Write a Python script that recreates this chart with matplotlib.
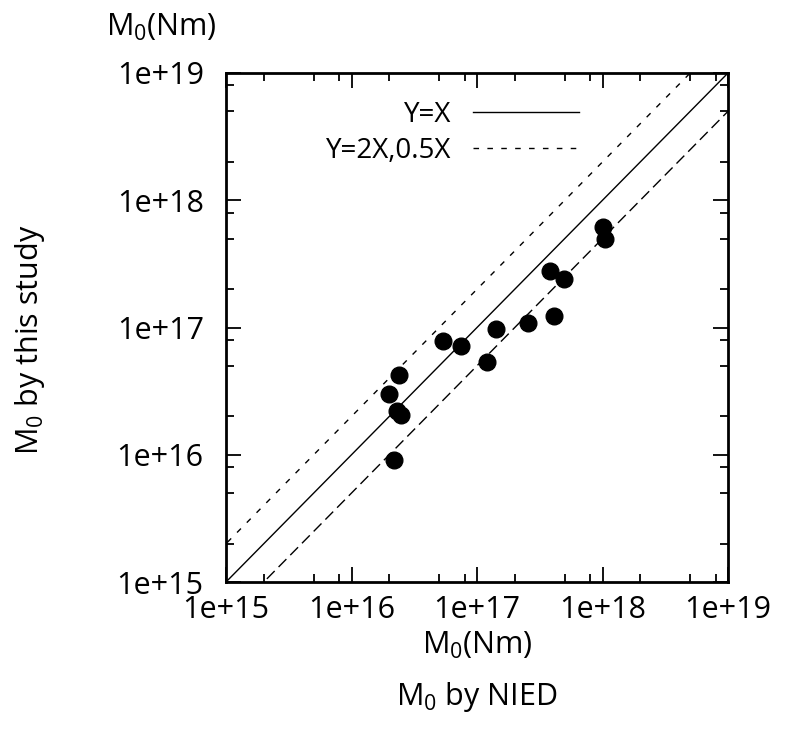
import matplotlib.pyplot as plt
import matplotlib.ticker as mticker
import numpy as np

# Seismic moment, NIED vs this study (Nm)
nied_m0 = [1.0e18, 1.05e18, 3.8e17, 4.9e17, 4.1e17, 2.57e17, 1.41e17, 5.4e16,
           7.4e16, 1.2e17, 2.4e16, 2.0e16, 2.3e16, 2.46e16, 2.18e16]
study_m0 = [6.2e17, 5.0e17, 2.8e17, 2.4e17, 1.24e17, 1.08e17, 9.7e16, 7.8e16,
            7.2e16, 5.4e16, 4.2e16, 3.0e16, 2.2e16, 2.05e16, 9.1e15]

ref_x = [1e14, 1e20]
major_ticks = [1e15, 1e16, 1e17, 1e18, 1e19]
tick_labels = ["1e+15", "1e+16", "1e+17", "1e+18", "1e+19"]

plt.rcParams.update({
    "font.family": ["Open Sans", "DejaVu Sans"],
    "mathtext.default": "regular",
    "font.size": 22,
})

fig = plt.figure(figsize=(7.93, 7.44), dpi=100)
ax = fig.add_axes([226 / 793, 1 - 582 / 744, 502 / 793, 509 / 744])

rx = np.array(ref_x)
ax.plot(rx, rx, color="black", linewidth=1.0, label="Y=X")
ax.plot(rx, 2 * rx, color="black", linewidth=1.0, dashes=(4, 6), label="Y=2X,0.5X")
ax.plot(rx, 0.5 * rx, color="black", linewidth=1.0, dashes=(8, 4))

ax.plot(nied_m0, study_m0, "o", color="black", markersize=12, zorder=3)

ax.set_xscale("log")
ax.set_yscale("log")
ax.set_xlim(1e15, 1e19)
ax.set_ylim(1e15, 1e19)

for axis in (ax.xaxis, ax.yaxis):
    axis.set_major_locator(mticker.FixedLocator(major_ticks))
    axis.set_minor_locator(mticker.LogLocator(base=10, subs=(2, 5, 8)))
    axis.set_minor_formatter(mticker.NullFormatter())
ax.set_xticklabels(tick_labels)
ax.set_yticklabels(tick_labels)

ax.tick_params(which="both", direction="in", top=True, right=True, width=1.3)
ax.tick_params(which="major", length=11)
ax.tick_params(which="minor", length=6)
ax.tick_params(axis="x", pad=9, labelsize=22)
ax.tick_params(axis="y", pad=16, labelsize=22)
for s in ax.spines.values():
    s.set_linewidth(2.0)

leg = ax.legend(loc="upper right", bbox_to_anchor=(0.753, 0.995), frameon=False,
                markerfirst=False, handlelength=3.8, handletextpad=0.8,
                labelspacing=0.3, fontsize=20)
for t in leg.get_texts():
    t.set_ha("right")

fig.text(161 / 793, 1 - 27 / 744, "M$_0$(Nm)", ha="center", va="center", fontsize=22)
fig.text(477 / 793, 1 - 645 / 744, "M$_0$(Nm)", ha="center", va="center", fontsize=22)
fig.text(477 / 793, 1 - 697 / 744, "M$_0$ by NIED", ha="center", va="center", fontsize=22)
fig.text(30 / 793, 1 - 340 / 744, "M$_0$ by this study", ha="center", va="center",
         rotation=90, fontsize=22)

fig.savefig("out.png", dpi=100)
